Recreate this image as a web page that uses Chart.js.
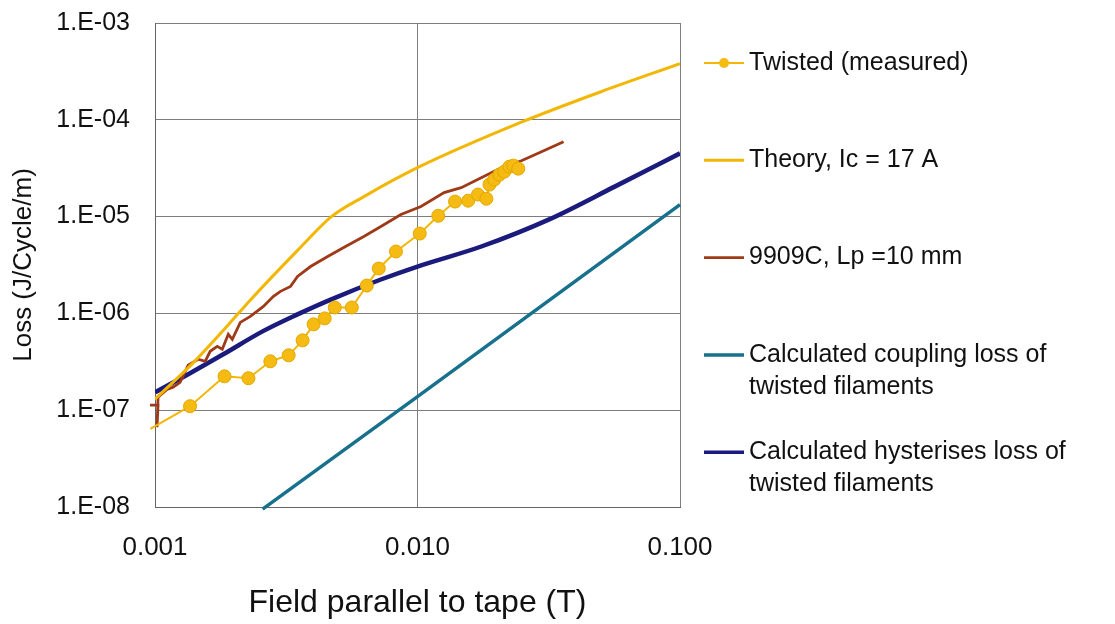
<!DOCTYPE html>
<html>
<head>
<meta charset="utf-8">
<script src="https://cdn.jsdelivr.net/npm/chart.js@4"></script>
<style>
  html, body { margin: 0; padding: 0; background: #fff; }
  canvas { display: block; }
</style>
</head>
<body>
<canvas id="lossChart" width="1115" height="624"></canvas>
<script>
// Twisted tape, measured loss
const measuredField = [0.00096, 0.00136, 0.00184, 0.00227, 0.00275, 0.00323, 0.00365, 0.00402, 0.00443, 0.00484,
  0.00562, 0.00641, 0.00712, 0.00828, 0.0102, 0.0120, 0.0139, 0.0156, 0.0170, 0.0183,
  0.0188, 0.0196, 0.0205, 0.0214, 0.0224, 0.0232, 0.0242];
const measuredLoss = [6.4e-8, 1.10e-7, 2.24e-7, 2.14e-7, 3.20e-7, 3.69e-7, 5.27e-7, 7.71e-7, 8.88e-7, 1.15e-6,
  1.15e-6, 1.94e-6, 2.91e-6, 4.36e-6, 6.68e-6, 1.02e-5, 1.43e-5, 1.46e-5, 1.69e-5, 1.53e-5,
  2.14e-5, 2.41e-5, 2.71e-5, 2.91e-5, 3.28e-5, 3.36e-5, 3.13e-5];

// Theory, Ic = 17 A
const theoryField = [0.001, 0.0014, 0.0019, 0.0023, 0.0035, 0.0047, 0.00625, 0.0100, 0.025, 0.05, 0.1];
const theoryLoss = [1.30e-7, 3.1e-7, 7.6e-7, 1.36e-6, 4.5e-6, 1.0e-5, 1.61e-5, 3.20e-5, 9.5e-5, 1.95e-4, 3.8e-4];

// 9909C, Lp = 10 mm
const sampleField = [0.000957, 0.001027, 0.001018, 0.001027, 0.001111, 0.001172, 0.001246, 0.001337, 0.001460, 0.001553,
  0.001623, 0.001726, 0.001804, 0.001902, 0.001970, 0.002113, 0.002308, 0.002588, 0.002827, 0.003006,
  0.003283, 0.003491, 0.003914, 0.004548, 0.005236, 0.006245, 0.007254, 0.008647, 0.01031, 0.01263,
  0.01467, 0.01749, 0.02086, 0.02488, 0.02967, 0.03601];
const sampleLoss = [1.13e-7, 1.13e-7, 6.68e-8, 1.36e-7, 1.64e-7, 1.73e-7, 1.94e-7, 2.91e-7, 3.36e-7, 3.20e-7,
  4.06e-7, 4.57e-7, 4.26e-7, 6.08e-7, 5.40e-7, 8.07e-7, 9.31e-7, 1.18e-6, 1.50e-6, 1.69e-6,
  1.90e-6, 2.41e-6, 3.05e-6, 3.87e-6, 4.79e-6, 6.22e-6, 7.89e-6, 1.05e-5, 1.27e-5, 1.77e-5,
  1.99e-5, 2.52e-5, 3.20e-5, 3.78e-5, 4.68e-5, 5.93e-5];

// Calculated coupling loss
const couplingField = [0.00257, 0.01, 0.1];
const couplingLoss = [9.5e-9, 1.38e-7, 1.33e-5];

// Calculated hysteresis loss
const hystField = [0.001, 0.00136, 0.00182, 0.00259, 0.00349, 0.00467, 0.00725, 0.0100, 0.0175, 0.0316, 0.0564, 0.1];
const hystLoss = [1.53e-7, 2.41e-7, 3.78e-7, 6.6e-7, 9.77e-7, 1.39e-6, 2.24e-6, 3.05e-6, 4.91e-6, 9.31e-6, 2.04e-5, 4.5e-5];

const xTicks = [0.001, 0.01, 0.1];
const yTicks = [1e-8, 1e-7, 1e-6, 1e-5, 1e-4, 1e-3];

const FONT = '"Liberation Sans", Arial, sans-serif';

function points(xs, ys) {
  return xs.map((x, i) => ({ x: x, y: ys[i] }));
}

function sciLabel(v) {
  const e = Math.round(Math.log10(v));
  return '1.E' + (e < 0 ? '-' : '+') + String(Math.abs(e)).padStart(2, '0');
}

// legend on the right, one row per dataset, long labels wrap
const sideLegend = {
  id: 'sideLegend',
  afterDraw(chart) {
    const ctx = chart.ctx;
    ctx.save();
    ctx.font = '25px ' + FONT;
    ctx.textBaseline = 'middle';
    chart.data.datasets.forEach((ds, i) => {
      const y = 63 + i * 97.3;
      ctx.strokeStyle = ds.borderColor;
      ctx.lineWidth = Math.min(ds.borderWidth, 3.5);
      ctx.beginPath();
      ctx.moveTo(704, y);
      ctx.lineTo(744, y);
      ctx.stroke();
      if (ds.legendMarker) {
        ctx.fillStyle = ds.pointBackgroundColor;
        ctx.beginPath();
        ctx.arc(724, y, 5, 0, Math.PI * 2);
        ctx.fill();
      }
      ctx.fillStyle = '#111';
      const lines = Array.isArray(ds.label) ? ds.label : [ds.label];
      lines.forEach((t, k) => ctx.fillText(t, 749, y + k * 32));
    });
    ctx.restore();
  }
};

const gold = '#f2b705';

new Chart(document.getElementById('lossChart'), {
  type: 'line',
  data: {
    datasets: [
      {
        label: 'Twisted (measured)',
        data: points(measuredField, measuredLoss),
        borderColor: gold,
        borderWidth: 2,
        pointBackgroundColor: '#f5bb12',
        pointBorderColor: '#e3a800',
        pointBorderWidth: 1,
        pointRadius: ctx => ctx.dataIndex === 0 ? 0 : 6.5,
        legendMarker: true,
        tension: 0,
        clip: { left: 12, top: 2, right: 2, bottom: 2 }
      },
      {
        label: 'Theory, Ic = 17 A',
        data: points(theoryField, theoryLoss),
        borderColor: gold,
        borderWidth: 3,
        pointRadius: 0,
        cubicInterpolationMode: 'monotone'
      },
      {
        label: '9909C, Lp =10 mm',
        data: points(sampleField, sampleLoss),
        borderColor: '#9e3a18',
        borderWidth: 2.8,
        pointRadius: 0,
        tension: 0,
        clip: { left: 12, top: 2, right: 2, bottom: 2 }
      },
      {
        label: ['Calculated coupling loss of', 'twisted filaments'],
        data: points(couplingField, couplingLoss),
        borderColor: '#17708c',
        borderWidth: 3.5,
        pointRadius: 0,
        tension: 0,
        clip: { left: 2, top: 2, right: 2, bottom: 4 }
      },
      {
        label: ['Calculated hysterises loss of', 'twisted filaments'],
        data: points(hystField, hystLoss),
        borderColor: '#1b1b7d',
        borderWidth: 4.5,
        pointRadius: 0,
        cubicInterpolationMode: 'monotone'
      }
    ]
  },
  options: {
    responsive: false,
    animation: false,
    devicePixelRatio: 1,
    layout: { padding: { left: 0, top: 23, right: 435, bottom: 0 } },
    plugins: {
      legend: { display: false },
      tooltip: { enabled: false }
    },
    scales: {
      x: {
        type: 'logarithmic',
        min: 0.001,
        max: 0.1,
        afterBuildTicks: scale => { scale.ticks = xTicks.map(v => ({ value: v })); },
        afterFit: scale => { scale.height = 117; scale.paddingLeft = 0; scale.paddingRight = 0; },
        grid: { color: '#7d7d7d', lineWidth: 1, drawTicks: false },
        border: { color: '#666', width: 1 },
        ticks: {
          color: '#111',
          padding: 25,
          maxRotation: 0,
          font: { family: FONT, size: 26 },
          callback: v => v.toFixed(3)
        },
        title: {
          display: true,
          text: 'Field parallel to tape (T)',
          color: '#111',
          font: { family: FONT, size: 32 },
          padding: { top: 0, bottom: 2 }
        }
      },
      y: {
        type: 'logarithmic',
        min: 1e-8,
        max: 1e-3,
        afterBuildTicks: scale => { scale.ticks = yTicks.map(v => ({ value: v })); },
        afterFit: scale => { scale.width = 155; scale.paddingTop = 0; scale.paddingBottom = 0; },
        grid: { color: '#7d7d7d', lineWidth: 1, drawTicks: false },
        border: { color: '#666', width: 1 },
        ticks: {
          color: '#111',
          padding: 25,
          font: { family: FONT, size: 25 },
          callback: v => sciLabel(v)
        },
        title: {
          display: true,
          text: 'Loss (J/Cycle/m)',
          color: '#111',
          font: { family: FONT, size: 26 },
          padding: { top: 8, bottom: 0 }
        }
      }
    }
  },
  plugins: [sideLegend]
});
</script>
</body>
</html>
